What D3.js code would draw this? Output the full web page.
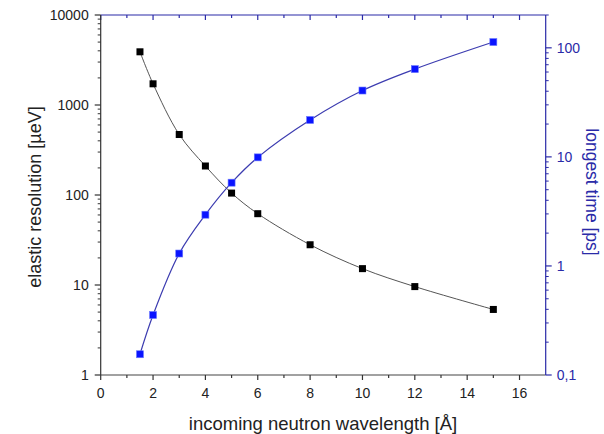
<!DOCTYPE html>
<html>
<head>
<meta charset="utf-8">
<script src="https://cdn.jsdelivr.net/npm/d3@7"></script>
<style>
  html, body { margin: 0; padding: 0; background: #fff; }
  svg { display: block; font-family: "Liberation Sans", Arial, sans-serif; }
</style>
</head>
<body>
<svg id="chart" width="604" height="434"></svg>
<script>
// Incoming neutron wavelength (Å)
const wavelength = [1.5, 2, 3, 4, 5, 6, 8, 10, 12, 15];
// Elastic resolution (µeV), left axis
const resolution = [3900, 1720, 470, 210, 105, 62, 28, 15.2, 9.6, 5.35];
// Longest observable time (ps), right axis
const longestTime = [0.155, 0.355, 1.3, 2.95, 5.8, 9.9, 21.8, 40.6, 63.8, 113];

const xTicks = [0, 2, 4, 6, 8, 10, 12, 14, 16];
const leftTicks = [1, 10, 100, 1000, 10000];
const rightTicks = [0.1, 1, 10, 100];
const rightTickLabels = ["0,1", "1", "10", "100"];

const svg = d3.select("#chart");
const plotL = 100.7, plotR = 545.7, plotT = 15, plotB = 375;
const blue = "#2a2aa8";
const markBlue = "#0a14ff";

const x = d3.scaleLinear().domain([0, 17]).range([plotL, plotR]);
const yL = d3.scaleLog().domain([1, 10000]).range([plotB, plotT]);
const yR = d3.scaleLog().domain([0.1, 200]).range([plotB, plotT]);

// minor tick helpers
const minorLog = (lo, hi) => {
  const out = [];
  for (let d = lo; d < hi; d *= 10) for (let k = 2; k <= 9; k++) if (d * k <= hi) out.push(d * k);
  return out;
};
const xMinor = d3.range(1, 17, 2);

// bottom axis
const gB = svg.append("g").attr("transform", `translate(0,${plotB})`);
gB.append("line").attr("x1", plotL).attr("x2", plotR).attr("stroke", "#444").attr("stroke-width", 1.2);
gB.selectAll(".maj").data(xTicks).join("line").attr("class", "maj")
  .attr("x1", d => x(d)).attr("x2", d => x(d)).attr("y1", 0).attr("y2", 5)
  .attr("stroke", "#333").attr("stroke-width", 1.2);
gB.selectAll(".min").data(xMinor).join("line").attr("class", "min")
  .attr("x1", d => x(d)).attr("x2", d => x(d)).attr("y1", 0).attr("y2", 3)
  .attr("stroke", "#333").attr("stroke-width", 1.2);
gB.selectAll("text").data(xTicks).join("text")
  .attr("x", d => x(d)).attr("y", 23).attr("text-anchor", "middle")
  .attr("font-size", 14).attr("fill", "#222").text(d => d);

// top axis (mirrors bottom, ticks inward)
const gT = svg.append("g").attr("transform", `translate(0,${plotT})`);
gT.append("line").attr("x1", plotL).attr("x2", plotR).attr("stroke", blue).attr("stroke-width", 1.2);
gT.selectAll(".maj").data(xTicks).join("line").attr("class", "maj")
  .attr("x1", d => x(d)).attr("x2", d => x(d)).attr("y1", 0).attr("y2", 5)
  .attr("stroke", blue).attr("stroke-width", 1.2);
gT.selectAll(".min").data(xMinor).join("line").attr("class", "min")
  .attr("x1", d => x(d)).attr("x2", d => x(d)).attr("y1", 0).attr("y2", 3)
  .attr("stroke", blue).attr("stroke-width", 1.2);

// left axis
const gL = svg.append("g").attr("transform", `translate(${plotL},0)`);
gL.append("line").attr("y1", plotT).attr("y2", plotB).attr("stroke", "#333").attr("stroke-width", 1.2);
gL.selectAll(".maj").data(leftTicks).join("line").attr("class", "maj")
  .attr("x1", 0).attr("x2", -6).attr("y1", d => yL(d)).attr("y2", d => yL(d))
  .attr("stroke", "#333").attr("stroke-width", 1.2);
gL.selectAll(".min").data(minorLog(1, 10000)).join("line").attr("class", "min")
  .attr("x1", 0).attr("x2", -3).attr("y1", d => yL(d)).attr("y2", d => yL(d))
  .attr("stroke", "#333").attr("stroke-width", 1);
gL.selectAll("text").data(leftTicks).join("text")
  .attr("x", -12).attr("y", d => yL(d) + 5).attr("text-anchor", "end")
  .attr("font-size", 14).attr("fill", "#222").text(d => d);

// right axis
const gR = svg.append("g").attr("transform", `translate(${plotR},0)`);
gR.append("line").attr("y1", plotT).attr("y2", plotB).attr("stroke", blue).attr("stroke-width", 1.2);
gR.selectAll(".maj").data(rightTicks).join("line").attr("class", "maj")
  .attr("x1", 0).attr("x2", 6).attr("y1", d => yR(d)).attr("y2", d => yR(d))
  .attr("stroke", blue).attr("stroke-width", 1.2);
gR.selectAll(".min").data(minorLog(0.1, 200)).join("line").attr("class", "min")
  .attr("x1", 0).attr("x2", 3).attr("y1", d => yR(d)).attr("y2", d => yR(d))
  .attr("stroke", blue).attr("stroke-width", 1);
gR.selectAll("text").data(rightTicks).join("text")
  .attr("x", 11).attr("y", d => yR(d) + 5).attr("text-anchor", "start")
  .attr("font-size", 14).attr("fill", blue).text((d, i) => rightTickLabels[i]);

// axis titles
svg.append("text").attr("x", 323).attr("y", 430)
  .attr("text-anchor", "middle").attr("font-size", 18.5).attr("fill", "#222")
  .text("incoming neutron wavelength [Å]");
svg.append("text").attr("transform", `translate(41,197) rotate(-90)`)
  .attr("text-anchor", "middle").attr("font-size", 18).attr("fill", "#222")
  .text("elastic resolution [µeV]");
svg.append("text").attr("transform", `translate(586,192) rotate(90)`)
  .attr("text-anchor", "middle").attr("font-size", 17.5).attr("fill", blue)
  .text("longest time [ps]");

// series
const lineL = d3.line().x((d, i) => x(wavelength[i])).y(d => yL(d)).curve(d3.curveCatmullRom);
const lineR = d3.line().x((d, i) => x(wavelength[i])).y(d => yR(d)).curve(d3.curveCatmullRom);

svg.append("path").attr("d", lineL(resolution)).attr("fill", "none")
  .attr("stroke", "#555").attr("stroke-width", 1);
svg.append("path").attr("d", lineR(longestTime)).attr("fill", "none")
  .attr("stroke", "#3c3cb0").attr("stroke-width", 1.2);

const s = 7;
svg.append("g").selectAll("rect").data(resolution).join("rect")
  .attr("x", (d, i) => x(wavelength[i]) - s / 2).attr("y", d => yL(d) - s / 2)
  .attr("width", s).attr("height", s).attr("fill", "#000");
svg.append("g").selectAll("rect").data(longestTime).join("rect")
  .attr("x", (d, i) => x(wavelength[i]) - s / 2).attr("y", d => yR(d) - s / 2)
  .attr("width", s).attr("height", s).attr("fill", markBlue)
  .attr("stroke", "#6a78ff").attr("stroke-width", 0.6);
</script>
</body>
</html>
